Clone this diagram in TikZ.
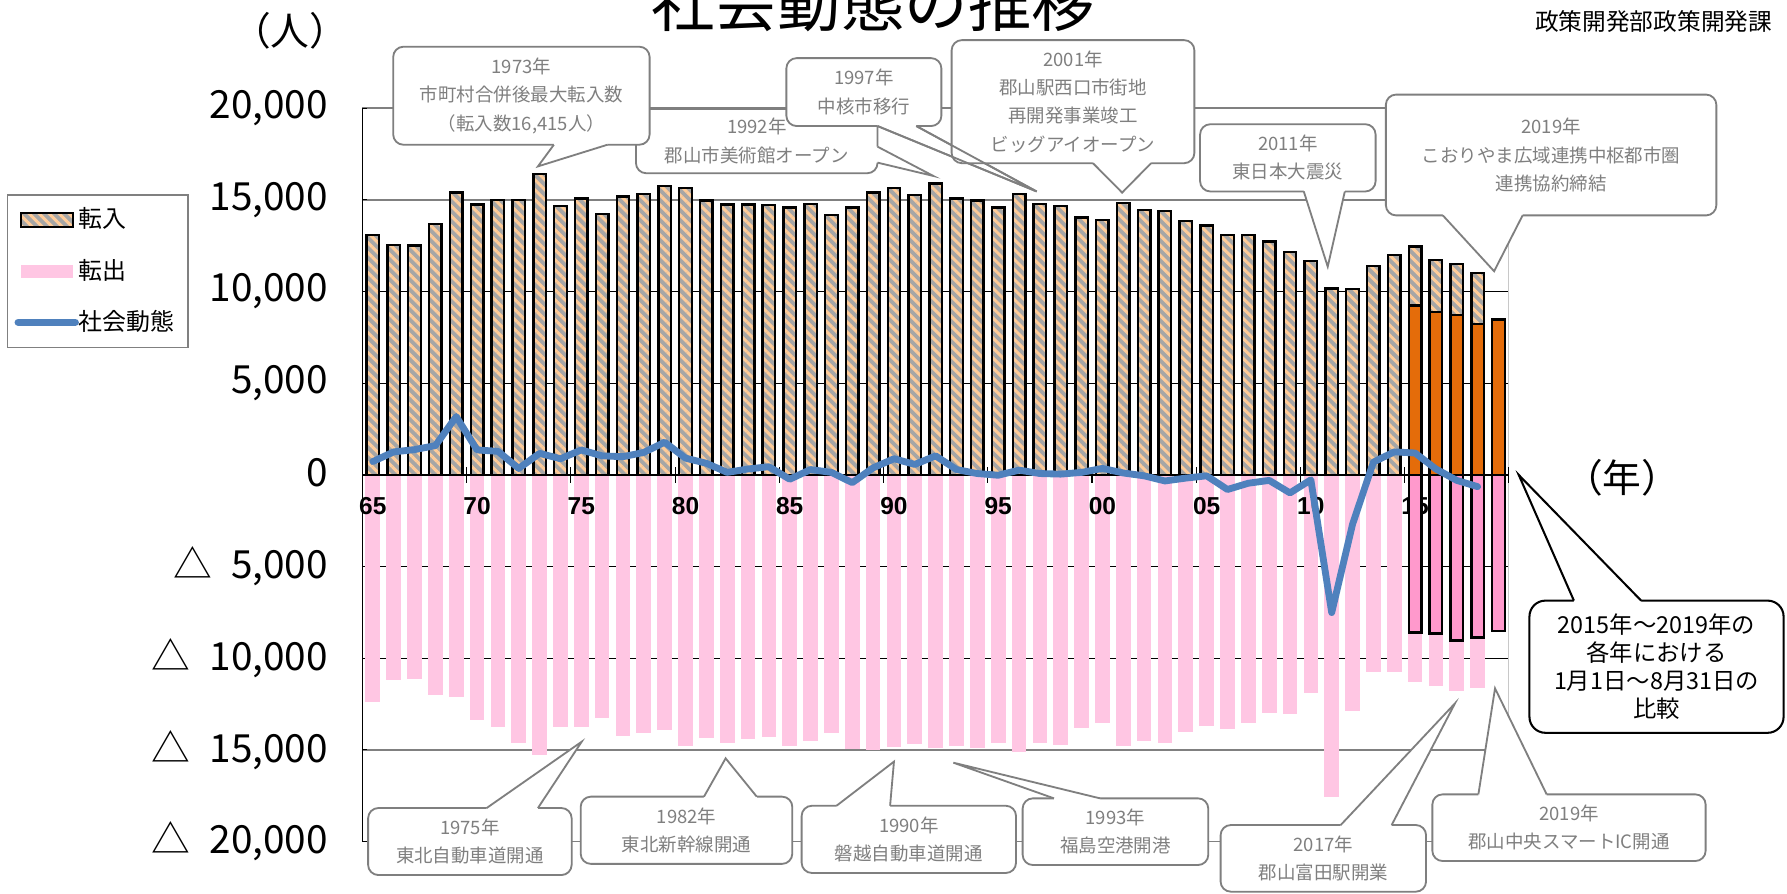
\documentclass[tikz,border=0pt]{standalone}
\usepackage{fontspec}
\setmainfont{Noto Sans CJK JP}
\newfontfamily\arialf{Liberation Sans}
\usetikzlibrary{patterns.meta,calc}
\definecolor{hgray}{HTML}{A6A6A6}
\definecolor{peach}{HTML}{FFCC99}
\definecolor{lpink}{HTML}{FFC6E3}
\definecolor{dpink}{HTML}{FF99CC}
\definecolor{orng}{HTML}{E46C0A}
\definecolor{blueln}{HTML}{4F81BD}
\definecolor{cgray}{HTML}{7F7F7F}
\definecolor{gridc}{HTML}{808080}
\definecolor{edgec}{HTML}{C8C8C8}
\tikzset{
  hatchfill/.style={pattern={Lines[angle=-45,distance=6.2pt,line width=2.6pt]}, pattern color=peach},
  barborder/.style={draw=black, line width=2.1pt},
  cbox/.style={draw=cgray, fill=white, line width=1.6pt, rounded corners=9pt, text=cgray, font=\fontsize{16.2}{24.8}\selectfont, align=center, inner sep=0pt},
  cline/.style={draw=cgray, line width=1.6pt, line join=miter},
  nbox/.style={draw=black, fill=white, line width=1.8pt, rounded corners=14pt, text=black, font=\fontsize{20.5}{24.7}\selectfont, align=center, inner sep=0pt},
  nline/.style={draw=black, line width=1.8pt, line join=miter},
  ylab/.style={anchor=east, inner sep=0pt, font=\fontsize{34}{34}\selectfont},
  xlab/.style={anchor=center, inner sep=0pt, font=\arialf\bfseries\fontsize{21.5}{21.5}\selectfont},
  gridg/.style={draw=gridc, line width=1.3pt},
  gridk/.style={draw=black, line width=0.9pt},
  leglab/.style={anchor=west, inner sep=0pt, font=\fontsize{21}{21}\selectfont},
}
\newcommand\callptr[5]{%
  \fill[white] ($(#1)+(#4)$) -- (#1) -- (#3) -- (#2) -- ($(#2)+(#4)$) -- cycle;
  \draw[#5] (#1) -- (#3) -- (#2);}
\begin{document}
\begin{tikzpicture}[x=1pt,y=-1pt]
\useasboundingbox (0,0) rectangle (1568,784.4);
\fill[white] (0,0) rectangle (1568,784.4);
% gridlines
\foreach \gy in {94.8,175.3,658,738.4} \draw[gridg] (318,\gy) -- (1323.5,\gy);
\foreach \gy in {255.7,336.1,497.1,577.5} \draw[gridk] (318,\gy) -- (1323.5,\gy);
\foreach \gy in {94.8,175.3,255.7,336.1,497.1,577.5,658,738.4} \draw[black,line width=0.9pt] (318,\gy) -- (322,\gy);
\draw[draw=edgec, line width=1.3pt] (1323.5,94.8) -- (1323.5,738.4);
% light pink (full-year out)
\foreach \b [count=\i from 0] in {615.7,597,596,610,612,631.8,637.6,652.2,662.5,638.2,
637.6,629.7,645.5,642.9,640.5,654.3,647.8,652.2,648.4,646.7,
654.3,649.9,643.1,657.5,658.1,655.2,653.1,656.6,654.3,656,
651.6,659.5,651.6,653.7,639.1,634.7,654.6,649.9,651.6,642,
637,639.9,634.7,625.9,626.5,607.8,699.6,623.6,589.9,589.9,
598.1,601.6,606.3,603.4}{
  \pgfmathsetmacro\xc{327.15+18.29*\i}
  \fill[lpink] (\xc-6.45,416.6) rectangle (\xc+6.45,\b);
}
% axes and ticks
\foreach \k in {0,...,11} \draw[black,line width=1pt] ({318+91.45*\k},410) -- ({318+91.45*\k},423.5);
\draw[black,line width=1.3pt] (318,416.6) -- (1323.5,416.6);
\draw[black,line width=1.3pt] (318,94.8) -- (318,738.4);
% hatched bars (full-year in)
\foreach \t [count=\i from 0] in {206,215,215.5,196.5,169,179.5,175.5,175.5,152.5,181,
174,188,172.5,170,163,165,176,179.5,179.5,180,
182,179,188.5,182,169,165,171,161,174,176,
182,170,179,181,191,193,178,184,185,194,
198,206,206,212,221,229,253,253.5,233.4,223.7,
216.4,228.1,231.9,239.8}{
  \pgfmathsetmacro\xc{327.15+18.29*\i}
  \fill[hgray] (\xc-5.5,416.6) rectangle (\xc+5.5,\t);
  \path[hatchfill] (\xc-5.5,416.6) rectangle (\xc+5.5,\t);
  \draw[barborder] (\xc-5.5,416.6) rectangle (\xc+5.5,\t);
}
% x labels
\foreach \lab [count=\k from 0] in {65,70,75,80,85,90,95,00,05,10,15}{
  \node[xlab] (xl\k) at ({327.15+91.45*\k},443.8) {\lab};
}
% Jan-Aug bars 2015-2019
\foreach \o/\d [count=\i from 50] in {268.2/555.1,273.5/555.7,276.4/562.1,284.3/559.2,280.2/553.4}{
  \pgfmathsetmacro\xc{327.15+18.29*\i}
  \filldraw[fill=orng, barborder] (\xc-5.5,416.6) rectangle (\xc+5.5,\o);
  \filldraw[fill=dpink, barborder] (\xc-5.5,416.6) rectangle (\xc+5.5,\d);
}
% social change line
\draw[blueln, line width=6pt, line join=round, line cap=round] (327.15,405)
 \foreach \v [count=\i from 1] in {396.5,394.5,391,365.5,394.8,396,411,397.8,402.5,
394.8,400,400.7,397,388,402,406.5,414.5,411.5,409.5,
420.5,412,414.5,423.5,410.5,402.5,407.5,400,412,415.5,
417,412.5,415.5,416,414.5,411,415,417.5,422,419.5,
417.5,429.5,424,421.5,432.5,421,537.5,460,405.5,396.5,
397.5,411.5,421.5,427}{ -- ({327.15+18.29*\i},\v) };
% legend
\draw[draw=gridc, line width=1.2pt, fill=white] (6.4,171) rectangle (165,305);
\fill[hgray] (18.4,187) rectangle (63.8,199);
\path[hatchfill] (18.4,187) rectangle (63.8,199);
\draw[barborder] (18.4,187) rectangle (63.8,199);
\fill[lpink] (18.4,232.5) rectangle (63.8,243.6);
\draw[blueln, line width=6.5pt, line cap=round] (16,282.8) -- (66,282.8);
\node[leglab] (lg1) at (68.7,191.4) {転入};
\node[leglab] (lg2) at (68.7,237) {転出};
\node[leglab] (lg3) at (68.7,281.6) {社会動態};
% y labels
\node[ylab] (y1) at (288,94.8) {20,000};
\node[ylab] (y2) at (288,175.3) {15,000};
\node[ylab] (y3) at (288,255.7) {10,000};
\node[ylab] (y4) at (288,336.1) {5,000};
\node[ylab] (y5) at (288,415) {0};
\node[ylab] (y6) at (288,497.1) {△\hspace{17pt}5,000};
\node[ylab] (y7) at (288,577.5) {△\hspace{17pt}10,000};
\node[ylab] (y8) at (288,658) {△\hspace{17pt}15,000};
\node[ylab] (y9) at (288,738.4) {△\hspace{17pt}20,000};
% titles
\node[anchor=base, inner sep=0pt, font=\fontsize{55.6}{55.6}\selectfont] (title) at (766,23.5) {社会動態の推移};
\node[inner sep=0pt, font=\fontsize{34}{34}\selectfont] (unitp) at (254.6,27) {（人）};
\node[inner sep=0pt, font=\fontsize{34}{34}\selectfont] (unity) at (1423.5,419) {（年）};
\node[inner sep=0pt, font=\fontsize{20.8}{20.8}\selectfont] (dept) at (1451,18.5) {政策開発部政策開発課};
% ---- callouts (top)
\node[cbox, minimum width=212pt, minimum height=56.5pt] (c1992) at (664,123.75) {1992年\\郡山市美術館オープン};
\coordinate (p92a) at (770,128.7); \coordinate (p92b) at (770,142.7); \coordinate (p92t) at (819,154.4);
\callptr{p92a}{p92b}{p92t}{-1.8,0}{cline}
\node[cbox, minimum width=225pt, minimum height=86pt] (c1973) at (457.5,84) {1973年\\市町村合併後最大転入数\\（転入数16,415人）};
\coordinate (p73a) at (486,127); \coordinate (p73b) at (533,127); \coordinate (p73t) at (472,146);
\callptr{p73a}{p73b}{p73t}{0,-1.8}{cline}
\node[cbox, minimum width=136pt, minimum height=59.6pt] (c1997) at (758,80.8) {1997年\\中核市移行};
\coordinate (p97a) at (770,110.6); \coordinate (p97b) at (804,110.6); \coordinate (p97t) at (909.6,168);
\callptr{p97a}{p97b}{p97t}{0,-1.8}{cline}
\node[cbox, minimum width=213pt, minimum height=108pt] (c2001) at (941.5,89.2) {2001年\\郡山駅西口市街地\\再開発事業竣工\\ビッグアイオープン};
\coordinate (p01a) at (959,143.2); \coordinate (p01b) at (1010,143.2); \coordinate (p01t) at (984.6,169);
\callptr{p01a}{p01b}{p01t}{0,-1.8}{cline}
\draw[cline] (p97a) -- (p97t) -- (p97b);
\node[cbox, minimum width=154pt, minimum height=59pt] (c2011) at (1130,138.5) {2011年\\東日本大震災};
\coordinate (p11a) at (1144,168); \coordinate (p11b) at (1180,168); \coordinate (p11t) at (1165,234);
\callptr{p11a}{p11b}{p11t}{0,-1.8}{cline}
\node[cbox, minimum width=290pt, minimum height=106pt] (c2019a) at (1361,136) {2019年\\こおりやま広域連携中枢都市圏\\連携協約締結};
\coordinate (p19a) at (1266,189); \coordinate (p19b) at (1336,189); \coordinate (p19t) at (1311,238);
\callptr{p19a}{p19b}{p19t}{0,-1.8}{cline}
% ---- callouts (bottom)
\node[cbox, minimum width=178.6pt, minimum height=58.8pt] (c1975) at (412.3,738.4) {1975年\\東北自動車道開通};
\coordinate (p75a) at (427,709); \coordinate (p75b) at (472,709); \coordinate (p75t) at (510.4,650.8);
\callptr{p75a}{p75b}{p75t}{0,1.8}{cline}
\node[cbox, minimum width=185.7pt, minimum height=59pt] (c1982) at (602.35,728.5) {1982年\\東北新幹線開通};
\coordinate (p82a) at (617.7,699); \coordinate (p82b) at (664,699); \coordinate (p82t) at (636.7,665.4);
\callptr{p82a}{p82b}{p82t}{0,1.8}{cline}
\node[cbox, minimum width=188.1pt, minimum height=59pt] (c1990) at (797.45,736.5) {1990年\\磐越自動車道開通};
\coordinate (p90a) at (734,707); \coordinate (p90b) at (781,707); \coordinate (p90t) at (784.4,668.3);
\callptr{p90a}{p90b}{p90t}{0,1.8}{cline}
\node[cbox, minimum width=162.9pt, minimum height=58.5pt] (c1993) at (978.75,729.75) {1993年\\福島空港開港};
\coordinate (p93a) at (924.8,700.5); \coordinate (p93b) at (965.2,700.5); \coordinate (p93t) at (836.5,669.2);
\callptr{p93a}{p93b}{p93t}{0,1.8}{cline}
\node[cbox, minimum width=180.3pt, minimum height=58.5pt] (c2017) at (1161.15,753.15) {2017年\\郡山富田駅開業};
\coordinate (p17a) at (1176.4,723.9); \coordinate (p17b) at (1221.1,723.9); \coordinate (p17t) at (1276.7,617.1);
\callptr{p17a}{p17b}{p17t}{0,1.8}{cline}
\node[cbox, minimum width=239.8pt, minimum height=58.5pt] (c2019b) at (1376.7,726.25) {2019年\\郡山中央スマートIC開通};
\coordinate (p19c) at (1297.2,697); \coordinate (p19d) at (1357.1,697); \coordinate (p19s) at (1311.8,604);
\callptr{p19c}{p19d}{p19s}{0,1.8}{cline}
% ---- note box
\node[nbox, minimum width=223pt, minimum height=116pt] (note) at (1453.5,585) {2015年～2019年の\\各年における\\1月1日～8月31日の\\比較};
\coordinate (pna) at (1381,527); \coordinate (pnb) at (1440,527); \coordinate (pnt) at (1332.6,416.7);
\callptr{pna}{pnb}{pnt}{0,1.8}{nline}
\end{tikzpicture}
\end{document}
